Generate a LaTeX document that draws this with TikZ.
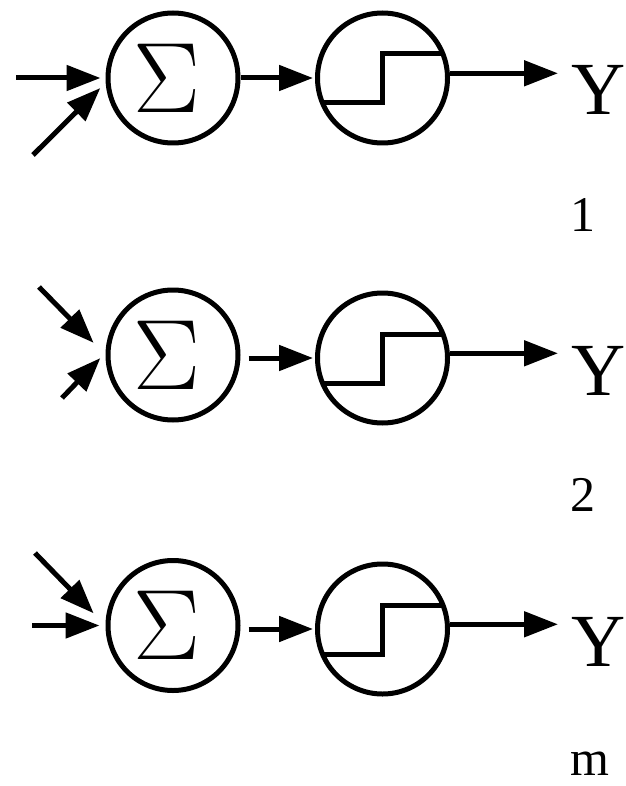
\RequirePackage{fix-cm}
\documentclass[tikz,border=0pt]{standalone}
\usepackage{fontspec}
\setmainfont{Liberation Serif}
\usetikzlibrary{arrows.meta}
\tikzset{SUMnode/.style={shape=circle,draw,line width=5pt,minimum size=130pt,inner sep=0pt,font=\fontsize{100}{100}\selectfont}}
\tikzset{THRnode/.style={shape=circle,draw,line width=5pt,minimum size=130pt,inner sep=0pt,
	path picture={\draw[line width=5pt] (path picture bounding box.center) ++(-66,25) -| ++(66,-49) -- ++(66,0);}}}
\tikzset{OUTnode/.style={anchor=base west,inner xsep=13pt,inner ysep=0pt,font=\fontsize{75}{75}\selectfont}}
\tikzset{IDXnode/.style={anchor=base,inner sep=0pt,font=\fontsize{50}{50}\selectfont}}

\begin{document}
\begin{tikzpicture}[x=1pt,y=-1pt]
	\useasboundingbox (0,0) rectangle (625,786);
	\node[SUMnode] (S1) at (173,78) {$\Sigma$\hspace*{12pt}};
	\node[THRnode] (T1) at (382.5,78) {};
	\node[SUMnode] (S2) at (173,355) {$\Sigma$\hspace*{12pt}};
	\node[THRnode] (T2) at (382.5,358) {};
	\node[SUMnode] (S3) at (173,625.5) {$\Sigma$\hspace*{12pt}};
	\node[THRnode] (T3) at (382.5,629) {};
	%
	\node[OUTnode] (Y1) at (558,115) {Y};
	\node[OUTnode] (Y2) at (558,395) {Y};
	\node[OUTnode] (Y3) at (558,666) {Y};
	\node[IDXnode] (I1) at (583,232) {1};
	\node[IDXnode] (I2) at (583,511) {2};
	\node[IDXnode] (I3) at (590,775) {m};
	%
	\coordinate (A1) at (16,78);
	\coordinate (B1) at (33,155);
	\coordinate (A2) at (39,287);
	\coordinate (B2) at (62,398);
	\coordinate (A3) at (35,553);
	\coordinate (B3) at (32,625.5);
	%
	\path[-{Triangle[length=34pt,width=25pt]},line width=5pt]
	(A1) edge[shorten >=5pt] (S1.west)
	(B1) edge[shorten >=7.5pt] (S1.184)
	(A2) edge[shorten >=17pt] (S2.180)
	(B2) edge[shorten >=7.5pt] (S2.178)
	(A3) edge[shorten >=17pt] (S3.180)
	(B3) edge[shorten >=6pt] (S3.west)
	(S1.east |- T1) edge[shorten >=2pt] (T1)
	(S2.east |- T2) edge[shorten <=8pt,shorten >=2pt] (T2)
	(S3.east |- T3) edge[shorten <=8pt,shorten >=2pt] (T3)
	(T1.4) edge (T1.4 -| Y1.west)
	(T2.4) edge (T2.4 -| Y2.west)
	(T3.4) edge (T3.4 -| Y3.west);
\end{tikzpicture}
\end{document}
